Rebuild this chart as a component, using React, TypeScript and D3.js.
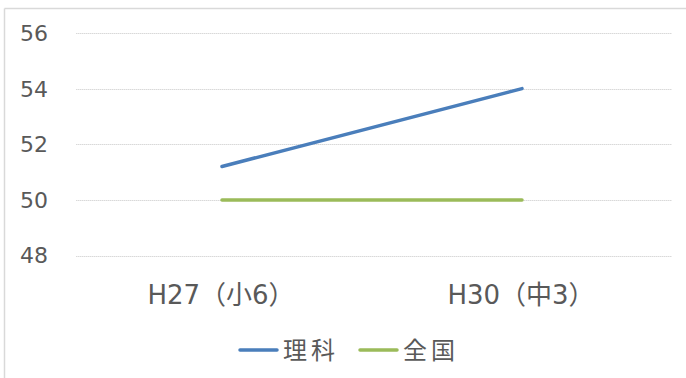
import React from "react";
import * as d3 from "d3";

const categories = ["H27（小6）", "H30（中3）"];
const rikaValues = [51.2, 54.0];
const zenkokuValues = [50, 50];
const yTicks = [48, 50, 52, 54, 56];
const seriesNames = ["理科", "全国"];
const seriesColors = ["#4A7EBB", "#9BBB59"];

const W = 686;
const H = 378;
const FONT = "'DejaVu Sans', 'Noto Sans CJK JP', sans-serif";

export default function App() {
  const x = d3.scalePoint<string>().domain(categories).range([72, 672]).padding(0.5);
  const y = d3.scaleLinear().domain([48, 56]).range([255.5, 33]);
  const line = d3
    .line<number>()
    .x((_, i) => x(categories[i]) as number)
    .y((d) => y(d));
  const series = [rikaValues, zenkokuValues];

  return (
    <svg
      width={W}
      height={H}
      style={{ position: "absolute", left: 0, top: 0, background: "#fff" }}
      fontFamily={FONT}
    >
      {/* chart frame */}
      <line x1={4.5} x2={W} y1={8.5} y2={8.5} stroke="#d9d9d9" strokeWidth={1.5} />
      <line x1={4.5} x2={4.5} y1={8.5} y2={H} stroke="#d9d9d9" strokeWidth={1.5} />

      {/* gridlines and value labels */}
      {yTicks.map((t) => (
        <g key={t}>
          <line
            x1={76}
            x2={672}
            y1={Math.round(y(t)) + 0.5}
            y2={Math.round(y(t)) + 0.5}
            stroke="#d9d9d9"
            strokeWidth={1}
            strokeDasharray="1.5 0.5"
          />
          <text
            x={48}
            y={y(t)}
            dy="0.36em"
            textAnchor="end"
            fontSize={22}
            fill="#595959"
          >
            {t}
          </text>
        </g>
      ))}

      {/* series lines */}
      {series.map((vals, i) => (
        <path
          key={i}
          d={line(vals) ?? ""}
          fill="none"
          stroke={seriesColors[i]}
          strokeWidth={3.5}
          strokeLinecap="round"
        />
      ))}

      {/* category labels */}
      {categories.map((c) => (
        <text
          key={c}
          x={(x(c) as number) - 1}
          y={304}
          textAnchor="middle"
          fontSize={26}
          fill="#595959"
        >
          {c}
        </text>
      ))}

      {/* legend */}
      {seriesNames.map((n, i) => {
        const lx = 240 + i * 120;
        return (
          <g key={n}>
            <line
              x1={lx}
              x2={lx + 37}
              y1={350}
              y2={350}
              stroke={seriesColors[i]}
              strokeWidth={3.5}
              strokeLinecap="round"
            />
            <text
              x={lx + 43}
              y={350}
              dy="0.36em"
              fontSize={24}
              letterSpacing={4}
              fill="#595959"
            >
              {n}
            </text>
          </g>
        );
      })}
    </svg>
  );
}
